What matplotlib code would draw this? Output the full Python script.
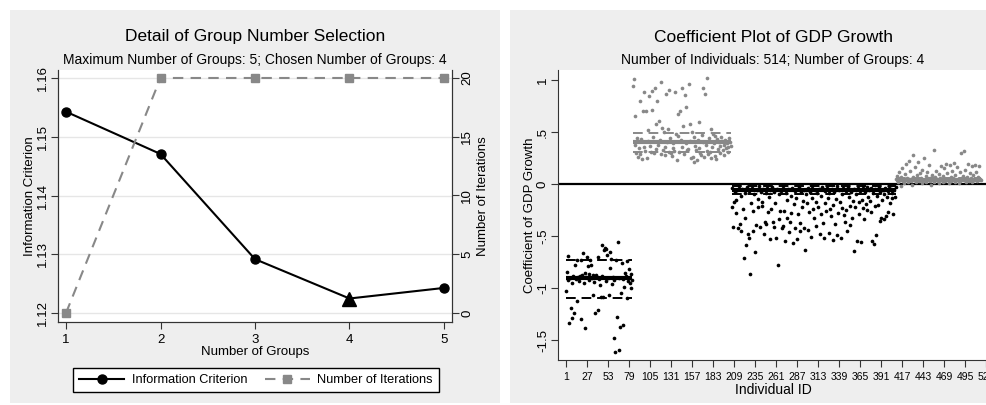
import numpy as np
import matplotlib
matplotlib.use("Agg")
import matplotlib.pyplot as plt
from matplotlib.patches import Rectangle
from matplotlib.lines import Line2D

plt.rcParams['font.family'] = ['Liberation Sans', 'DejaVu Sans']

# ---- left panel: group number selection ----
n_groups = [1, 2, 3, 4, 5]
info_crit = [1.1543, 1.1471, 1.1292, 1.1225, 1.1243]
n_iter = [0, 20, 20, 20, 20]
chosen = 4

# ---- right panel: individual coefficients, in ID order, by group ----
g1 = [-1.03, -0.84, -0.92, -0.69, -1.33, -0.90, -1.19, -0.95, -1.29, -0.88,
      -1.24, -0.78, -0.91, -0.73, -1.12, -0.89, -0.93, -0.88, -1.30, -0.73,
      -0.87, -0.66, -0.95, -1.38, -0.85, -0.89, -0.70, -0.79, -0.92, -0.86,
      -0.73, -0.78, -0.90, -0.87, -1.07, -0.94, -1.24, -0.87, -0.89, -1.21,
      -0.70, -0.91, -0.97, -1.08, -0.59, -0.88, -1.08, -0.63, -0.61, -0.93,
      -0.62, -0.68, -0.90, -1.07, -0.81, -0.65, -0.72, -0.96, -0.89, -1.48,
      -0.92, -1.61, -0.73, -1.28, -0.56, -0.90, -1.59, -1.37, -1.05, -0.76,
      -1.35, -0.91, -0.99, -0.85, -0.88, -0.74, -1.09, -0.93, -0.82, -0.95,
      -1.00, -0.86, -0.92]
g2 = [0.94, 1.01, 0.65, 0.38, 0.30, 0.44, 0.26, 0.35, 0.80, 0.29,
      0.43, 0.24, 0.70, 0.36, 0.88, 0.32, 0.70, 0.25, 0.52, 0.41,
      0.85, 0.37, 0.31, 0.71, 0.89, 0.45, 0.30, 0.92, 0.58, 0.34,
      0.80, 0.38, 0.61, 0.42, 0.29, 0.98, 0.54, 0.33, 0.50, 0.36,
      0.28, 0.87, 0.40, 0.53, 0.31, 0.90, 0.44, 0.30, 0.27, 0.39,
      0.35, 0.32, 0.88, 0.48, 0.23, 0.46, 0.67, 0.31, 0.70, 0.42,
      0.92, 0.36, 0.56, 0.29, 0.86, 0.74, 0.39, 0.33, 0.34, 0.96,
      0.41, 0.58, 0.25, 0.50, 0.26, 0.45, 0.21, 0.37, 0.33, 0.23,
      0.42, 0.35, 0.60, 0.30, 0.28, 0.47, 0.92, 0.40, 0.26, 0.87,
      0.38, 0.32, 1.02, 0.29, 0.44, 0.31, 0.25, 0.53, 0.36, 0.48,
      0.39, 0.27, 0.46, 0.24, 0.43, 0.34, 0.40, 0.37, 0.30, 0.45,
      0.41, 0.33, 0.38, 0.28, 0.42, 0.35, 0.39, 0.31, 0.36, 0.44,
      0.40, 0.37]
g3 = [-0.22, -0.04, -0.41, -0.17, -0.08, -0.28, -0.15, -0.06, -0.42, -0.02,
      -0.38, -0.11, -0.45, -0.05, -0.24, -0.71, -0.09, -0.33, -0.59, -0.03,
      -0.48, -0.07, -0.52, -0.86, -0.18, -0.04, -0.45, -0.26, -0.10, -0.65,
      -0.39, -0.06, -0.14, -0.22, -0.02, -0.41, -0.08, -0.21, -0.17, -0.05,
      -0.48, -0.36, -0.09, -0.38, -0.04, -0.27, -0.12, -0.53, -0.06, -0.24,
      -0.03, -0.36, -0.41, -0.08, -0.18, -0.52, -0.05, -0.78, -0.34, -0.10,
      -0.26, -0.07, -0.42, -0.40, -0.02, -0.26, -0.55, -0.09, -0.33, -0.15,
      -0.05, -0.46, -0.36, -0.11, -0.28, -0.04, -0.57, -0.19, -0.42, -0.07,
      -0.13, -0.53, -0.29, -0.03, -0.37, -0.45, -0.08, -0.22, -0.16, -0.06,
      -0.42, -0.63, -0.10, -0.18, -0.04, -0.44, -0.27, -0.08, -0.51, -0.13,
      -0.02, -0.24, -0.33, -0.06, -0.40, -0.17, -0.09, -0.22, -0.05, -0.48,
      -0.29, -0.11, -0.03, -0.37, -0.52, -0.07, -0.18, -0.26, -0.04, -0.13,
      -0.47, -0.09, -0.24, -0.31, -0.05, -0.54, -0.20, -0.08, -0.38, -0.14,
      -0.02, -0.49, -0.28, -0.06, -0.17, -0.52, -0.10, -0.23, -0.04, -0.30,
      -0.36, -0.07, -0.25, -0.45, -0.03, -0.12, -0.39, -0.21, -0.08, -0.33,
      -0.16, -0.05, -0.64, -0.22, -0.10, -0.55, -0.04, -0.17, -0.29, -0.07,
      -0.56, -0.15, -0.02, -0.23, -0.34, -0.08, -0.19, -0.03, -0.25, -0.12,
      -0.06, -0.16, -0.27, -0.04, -0.55, -0.09, -0.58, -0.21, -0.05, -0.49,
      -0.11, -0.20, -0.03, -0.35, -0.08, -0.33, -0.15, -0.06, -0.34, -0.10,
      -0.04, -0.31, -0.12, -0.07, -0.27, -0.02, -0.18, -0.05, -0.13, -0.09,
      -0.29, -0.06, -0.12, -0.03]
g4 = [0.05, 0.08, 0.02, 0.12, 0.04, -0.02, 0.07, 0.15, 0.03, 0.01,
      0.10, 0.04, 0.19, 0.06, 0.02, 0.22, 0.05, 0.13, 0.03, -0.01,
      0.28, 0.07, 0.04, 0.16, 0.02, 0.09, 0.05, 0.21, 0.03, 0.11,
      0.06, 0.01, 0.14, 0.04, 0.25, 0.03, 0.08, 0.02, 0.12, 0.05,
      0.18, 0.03, 0.06, -0.01, 0.09, 0.04, 0.33, 0.02, 0.07, 0.13,
      0.05, 0.03, 0.10, 0.01, 0.06, 0.17, 0.04, 0.08, 0.02, 0.15,
      0.03, 0.19, 0.05, 0.11, 0.04, 0.01, 0.18, 0.07, 0.03, 0.13,
      0.06, 0.20, 0.02, 0.09, 0.04, 0.16, 0.05, 0.01, 0.12, 0.03,
      0.30, 0.06, 0.08, 0.32, 0.04, 0.14, 0.02, 0.07, 0.19, 0.05,
      0.03, 0.11, 0.06, 0.17, 0.02, 0.09, 0.04, 0.18, 0.05, 0.12,
      0.03, 0.07, 0.17, 0.05, 0.04]
groups = [g1, g2, g3, g4]
group_mean = [-0.90, 0.40, -0.055, 0.04]
group_hi = [-0.73, 0.49, -0.015, 0.055]
group_lo = [-1.09, 0.31, -0.095, 0.025]
group_color = ['black', '#888888', 'black', '#888888']
id_ticks = list(range(1, 522, 26))

W, H = 986, 405
fig = plt.figure(figsize=(W / 100, H / 100), dpi=100)
fig.patch.set_facecolor('white')
bg = '#eeeeee'
fig.patches.append(Rectangle((10 / W, 2 / H), 490 / W, 393 / H, transform=fig.transFigure,
                             facecolor=bg, edgecolor='none', zorder=-10))
fig.patches.append(Rectangle((510 / W, 2 / H), 1, 393 / H, transform=fig.transFigure,
                             facecolor=bg, edgecolor='none', zorder=-10))

# ================= left panel =================
ax = fig.add_axes([58 / W, 1 - 322 / H, 394 / W, 252 / H])
ax.set_facecolor('white')
ax.set_xlim(0.915, 5.085)
ax.set_ylim(1.1185, 1.1614)
ax.set_yticks([1.12, 1.13, 1.14, 1.15, 1.16])
ax.set_yticklabels(['1.12', '1.13', '1.14', '1.15', '1.16'], rotation=90, va='center')
ax.set_xticks(n_groups)
ax.grid(axis='y', color='#e6e6e6', lw=1)
ax.set_axisbelow(True)
ax.spines['top'].set_visible(False)
for s in ['left', 'bottom', 'right']:
    ax.spines[s].set_color('#333333')
ax.tick_params(labelsize=9.5, length=5, color='#333333')
ax.tick_params(axis='y', pad=1.5)
ax.set_ylabel('Information Criterion', fontsize=9.5, labelpad=1)
ax.set_xlabel('Number of Groups', fontsize=9.5, labelpad=0)

ax.plot(n_groups, info_crit, color='black', lw=1.5, zorder=3)
for g, v in zip(n_groups, info_crit):
    if g == chosen:
        ax.plot(g, v, marker='^', ms=10, color='black', zorder=4)
    else:
        ax.plot(g, v, marker='o', ms=6.5, color='black', zorder=4)

ax2 = ax.twinx()
ax2.set_ylim(-0.77, 20.68)
ax2.set_yticks([0, 5, 10, 15, 20])
ax2.set_yticklabels(['0', '5', '10', '15', '20'], rotation=90, va='center')
ax2.spines['top'].set_visible(False)
for s in ['left', 'bottom', 'right']:
    ax2.spines[s].set_color('#333333')
ax2.tick_params(labelsize=9.5, length=5, color='#333333', pad=1.5)
ax2.set_ylabel('Number of Iterations', fontsize=9.5, rotation=90, labelpad=3)
ax2.plot(n_groups, n_iter, color='#888888', lw=1.5, ls=(0, (5, 3.5)),
         marker='s', ms=6, zorder=3)

fig.text(255 / W, 1 - 37 / H, 'Detail of Group Number Selection', ha='center', va='center', fontsize=12.5)
fig.text(255 / W, 1 - 60 / H, 'Maximum Number of Groups: 5; Chosen Number of Groups: 4',
         ha='center', va='center', fontsize=10)

handles = [Line2D([], [], color='black', lw=1.5, marker='o', ms=6.5),
           Line2D([], [], color='#888888', lw=1.5, ls=(0, (5, 3.5)), marker='s', ms=6)]
fig.legend(handles, ['Information Criterion', 'Number of Iterations'],
           bbox_to_anchor=(256 / W, 1 - 380 / H), ncol=2,
           loc='center', fontsize=9.2, handlelength=3.5, handletextpad=0.6,
           fancybox=False, edgecolor='black', framealpha=1, borderpad=0.45,
           borderaxespad=0, columnspacing=1.4)

# ================= right panel =================
axr = fig.add_axes([558 / W, 1 - 360 / H, 430.6 / W, 290 / H])
axr.set_facecolor('white')
axr.set_xlim(-8.9, 524)
axr.set_ylim(-1.69, 1.096)
axr.set_yticks([1, 0.5, 0, -0.5, -1, -1.5])
axr.set_yticklabels(['1', '.5', '0', '-.5', '-1', '-1.5'], rotation=90, va='center')
axr.set_xticks(id_ticks)
axr.tick_params(axis='x', labelsize=7.5, length=5, color='#333333')
axr.tick_params(axis='y', labelsize=9.5, length=5, color='#333333', pad=1.5)
axr.spines['top'].set_visible(False)
axr.spines['right'].set_visible(False)
for s in ['left', 'bottom']:
    axr.spines[s].set_color('#333333')
axr.set_ylabel('Coefficient of GDP Growth', fontsize=9.5, labelpad=1)
axr.set_xlabel('Individual ID', fontsize=10, labelpad=1)

axr.axhline(0, color='black', lw=1.6, zorder=2)
start = 1
for vals, m, hi, lo, c in zip(groups, group_mean, group_hi, group_lo, group_color):
    ids = np.arange(start, start + len(vals))
    axr.scatter(ids, vals, s=7, color=c, linewidths=0, zorder=3)
    axr.hlines(m, ids[0], ids[-1], color=c, lw=3, zorder=4)
    axr.hlines([hi, lo], ids[0], ids[-1], color=c, lw=1.4, linestyles=[(0, (5, 3))], zorder=4)
    start += len(vals)

fig.text(773 / W, 1 - 37 / H, 'Coefficient Plot of GDP Growth', ha='center', va='center', fontsize=12.5)
fig.text(773 / W, 1 - 60 / H, 'Number of Individuals: 514; Number of Groups: 4',
         ha='center', va='center', fontsize=10)

fig.savefig('out.png', dpi=100)
